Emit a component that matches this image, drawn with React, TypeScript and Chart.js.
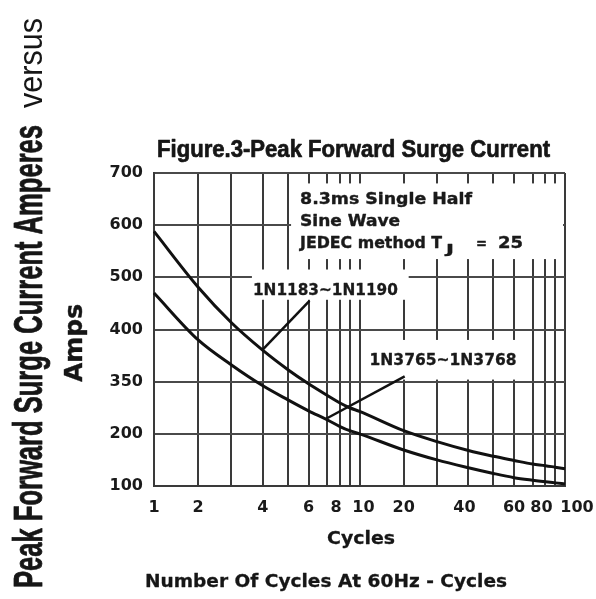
import React, { useEffect, useRef } from 'react';
import { Chart, registerables, LogarithmicScale } from 'chart.js';

// ---- data ----
const CYCLES = [1, 2, 3, 4, 5, 6, 7, 8, 9, 10, 20, 30, 40, 50, 60, 70, 80, 90, 100];
const SURGE_1N1183 = [588, 481, 413, 360, 323, 296, 274, 259, 250, 243, 206, 185, 168, 157, 149, 142, 139, 136, 133];
const SURGE_1N3765 = [470, 380, 332, 292, 265, 244, 227, 214, 206, 200, 169, 150, 135, 124, 116, 111, 108, 106, 104];

const X_GRID = [1, 2, 3, 4, 5, 6, 7, 8, 9, 10, 20, 30, 40, 50, 60, 70, 80, 90, 100];
const X_LABELS = [1, 2, 4, 6, 8, 10, 20, 40, 60, 80, 100];
const Y_TICKS = [100, 200, 300, 400, 500, 600, 700];
const Y_LABELS = ['100', '200', '350', '400', '500', '600', '700'];

// leader lines from the part labels to the curves (cycles, amps)
const LEADER_1N1183_X = [6.05, 3.97];
const LEADER_1N1183_Y = [455, 360];
const LEADER_1N3765_X = [20.3, 6.9];
const LEADER_1N3765_Y = [310, 228];

const TITLE = 'Figure.3-Peak Forward Surge Current';
const LEFT_TITLE = 'Peak Forward Surge Current Amperes';
const LEFT_TITLE_2 = 'versus';
const Y_TITLE = 'Amps';
const X_TITLE = 'Cycles';
const X_TITLE_2 = 'Number Of Cycles At 60Hz - Cycles';
const NOTE_1 = '8.3ms Single Half';
const NOTE_2 = 'Sine Wave';
const NOTE_3 = 'JEDEC method T';
const NOTE_3_SUB = 'J';
const NOTE_3_EQ = '=';
const NOTE_3_VAL = '25';
const LABEL_1N1183 = '1N1183~1N1190';
const LABEL_1N3765 = '1N3765~1N3768';

// The printed log paper is not a true log grid: position of mantissa 1..10 within a decade.
const DECADE_WARP = [0, 0.215, 0.377, 0.53, 0.652, 0.752, 0.842, 0.905, 0.952, 1];

function warpLog(v: number): number {
  const lg = Math.log10(v);
  const k = Math.floor(lg + 1e-9);
  let m = v / Math.pow(10, k);
  if (m < 1) m = 1;
  const i = Math.min(8, Math.max(0, Math.floor(m) - 1));
  const f = DECADE_WARP[i] + (DECADE_WARP[i + 1] - DECADE_WARP[i]) * (m - (i + 1));
  return k + f;
}

class WarpedLogScale extends LogarithmicScale {
  static id = 'warpedLog';
  static defaults = {};
  getPixelForValue(value: any) {
    if (value === null || value === undefined || isNaN(value)) return NaN;
    const a = warpLog(this.min);
    const b = warpLog(this.max);
    return this.getPixelForDecimal((warpLog(value) - a) / (b - a));
  }
  getValueForPixel(pixel: number) {
    const d = this.getDecimalForPixel(pixel);
    const a = warpLog(this.min);
    const b = warpLog(this.max);
    const w = a + d * (b - a);
    const k = Math.floor(w);
    const f = w - k;
    let i = 0;
    while (i < 8 && DECADE_WARP[i + 1] < f) i++;
    const m = i + 1 + (f - DECADE_WARP[i]) / (DECADE_WARP[i + 1] - DECADE_WARP[i]);
    return m * Math.pow(10, k);
  }
}

Chart.register(...registerables, WarpedLogScale);

const SANS = "'DejaVu Sans', Verdana, sans-serif";
const NARROW = "'Liberation Sans', Arial, sans-serif";

// nudges of a few x-labels sideways (as printed), via leading/trailing spaces
const EN = '\u2002';
const EM = '\u2003';
function xLabel(v: number): string {
  if (!X_LABELS.includes(v)) return '';
  const s = String(v);
  if (v === 8 || v === 40 || v === 80) return s + EN;
  if (v === 10) return EN + s;
  if (v === 100) return EM + EN + s;
  return s;
}

function fitText(
  ctx: CanvasRenderingContext2D,
  text: string,
  x: number,
  y: number,
  font: string,
  width: number,
  align: CanvasTextAlign = 'left',
  rotate = false,
  stroke = 0
) {
  ctx.save();
  ctx.font = font;
  const w = ctx.measureText(text).width || 1;
  ctx.translate(x, y);
  if (rotate) ctx.rotate(-Math.PI / 2);
  ctx.scale(width / w, 1);
  ctx.textAlign = align;
  ctx.textBaseline = 'alphabetic';
  ctx.fillText(text, 0, 0);
  if (stroke > 0) {
    ctx.strokeStyle = ctx.fillStyle as string;
    ctx.lineWidth = stroke;
    ctx.lineJoin = 'round';
    ctx.strokeText(text, 0, 0);
  }
  ctx.restore();
}

const overlayPlugin = {
  id: 'overlay',
  beforeDraw(chart: any) {
    const ctx = chart.ctx;
    ctx.save();
    ctx.fillStyle = '#ffffff';
    ctx.fillRect(0, 0, chart.width, chart.height);
    ctx.restore();
  },
  beforeDatasetsDraw(chart: any) {
    const { ctx, chartArea } = chart;
    const xs = chart.scales.x;
    const ys = chart.scales.y;
    const box = (x0: number, x1: number | null, y0: number, y1: number) => {
      const l = xs.getPixelForValue(x0);
      const r = x1 == null ? chartArea.right - 2 : xs.getPixelForValue(x1);
      const t = ys.getPixelForValue(y0);
      const b = ys.getPixelForValue(y1);
      ctx.fillStyle = '#ffffff';
      ctx.fillRect(l, t, r - l, b - t);
      return { l, r, t, b };
    };
    ctx.save();
    const a = box(5.15, null, 680, 535);
    const b = box(3.65, 21.5, 515, 457);
    const c = box(11.6, 65, 380, 304);

    ctx.fillStyle = '#1a1a1a';
    const f16 = `bold 16px ${SANS}`;
    fitText(ctx, NOTE_1, a.l + 9, a.t + 21, f16, 172, 'left', false, 0.4);
    fitText(ctx, NOTE_2, a.l + 9, a.t + 43, f16, 100, 'left', false, 0.4);
    fitText(ctx, NOTE_3, a.l + 9, a.t + 65, f16, 142, 'left', false, 0.4);
    fitText(ctx, NOTE_3_SUB, a.l + 155, a.t + 70, `bold 13px ${SANS}`, 8, 'left', false, 0.4);
    fitText(ctx, NOTE_3_EQ, a.l + 185, a.t + 65, f16, 11, 'left', false, 0.4);
    fitText(ctx, NOTE_3_VAL, a.l + 232, a.t + 65, f16, 25, 'right', false, 0.4);

    const f15 = `bold 15px ${SANS}`;
    fitText(ctx, LABEL_1N1183, b.l + 1, b.t + 25, f15, 145, 'left', false, 0.3);
    fitText(ctx, LABEL_1N3765, c.l + 3, c.t + 25, f15, 147, 'left', false, 0.3);
    ctx.restore();
  },
  afterDraw(chart: any) {
    const ctx = chart.ctx;
    ctx.save();
    ctx.fillStyle = '#161616';
    fitText(ctx, TITLE, 157, 157, `bold 24px ${NARROW}`, 393, 'left', false, 0.7);
    fitText(ctx, LEFT_TITLE, 42, 588, `bold 40px ${NARROW}`, 463, 'left', true, 0.8);
    fitText(ctx, LEFT_TITLE_2, 42, 108, `34px ${NARROW}`, 90, 'left', true);
    fitText(ctx, Y_TITLE, 82, 343, `bold 24px ${SANS}`, 78, 'center', true, 0.4);
    fitText(ctx, X_TITLE, 361, 544, `bold 18px ${SANS}`, 68, 'center', false, 0.3);
    fitText(ctx, X_TITLE_2, 145, 587, `bold 18px ${SANS}`, 362, 'left', false, 0.3);
    ctx.restore();
  },
};

export default function App() {
  const ref = useRef<HTMLCanvasElement | null>(null);

  useEffect(() => {
    if (!ref.current) return;
    const pts = (xs: number[], ys: number[]) => xs.map((x, i) => ({ x, y: ys[i] }));
    const curve = (label: string, ys: number[]) => ({
      label,
      data: pts(CYCLES, ys),
      borderColor: '#111111',
      borderWidth: 3,
      pointRadius: 0,
      cubicInterpolationMode: 'monotone',
      fill: false,
      clip: 6,
    });
    const leader = (label: string, xs: number[], ys: number[]) => ({
      label,
      data: pts(xs, ys),
      borderColor: '#111111',
      borderWidth: 2.5,
      pointRadius: 0,
      fill: false,
    });
    const chart = new Chart(ref.current, {
      type: 'line',
      data: {
        datasets: [
          curve(LABEL_1N1183, SURGE_1N1183),
          curve(LABEL_1N3765, SURGE_1N3765),
          leader('leader 1N1183', LEADER_1N1183_X, LEADER_1N1183_Y),
          leader('leader 1N3765', LEADER_1N3765_X, LEADER_1N3765_Y),
        ],
      },
      options: {
        animation: false,
        responsive: true,
        maintainAspectRatio: false,
        devicePixelRatio: 1,
        layout: { padding: { left: 0, top: 173, right: 31, bottom: 0 } },
        plugins: {
          legend: { display: false },
          title: { display: false },
          tooltip: { enabled: false },
        },
        events: [],
        scales: {
          x: {
            type: 'warpedLog' as any,
            min: 1,
            max: 100,
            afterBuildTicks: (scale: any) => {
              scale.ticks = X_GRID.map((v) => ({ value: v }));
            },
            afterFit: (scale: any) => {
              scale.height = 113;
              scale.paddingLeft = 0;
              scale.paddingRight = 0;
            },
            ticks: {
              autoSkip: false,
              maxRotation: 0,
              minRotation: 0,
              padding: 12,
              color: '#1a1a1a',
              font: { family: SANS, size: 16, weight: 'bold' },
              callback: (v: any) => xLabel(Number(v)),
            },
            grid: { color: '#3a3a3a', lineWidth: 2, drawTicks: false },
            border: { display: true, color: '#3a3a3a', width: 2 },
          },
          y: {
            type: 'linear',
            min: 100,
            max: 700,
            afterBuildTicks: (scale: any) => {
              scale.ticks = Y_TICKS.map((v) => ({ value: v }));
            },
            afterFit: (scale: any) => {
              scale.width = 154;
              scale.paddingTop = 0;
              scale.paddingBottom = 0;
            },
            ticks: {
              padding: 11,
              color: '#1a1a1a',
              font: { family: SANS, size: 16, weight: 'bold' },
              callback: (v: any) => {
                const i = Y_TICKS.indexOf(Number(v));
                return i >= 0 ? Y_LABELS[i] : '';
              },
            },
            grid: { color: '#4a4a4a', lineWidth: 2, drawTicks: false },
            border: { display: true, color: '#3a3a3a', width: 2 },
          },
        },
      },
      plugins: [overlayPlugin],
    } as any);
    return () => chart.destroy();
  }, []);

  return (
    <div style={{ position: 'fixed', left: 0, top: 0, width: 596, height: 599, background: '#fff' }}>
      <canvas ref={ref} />
    </div>
  );
}
